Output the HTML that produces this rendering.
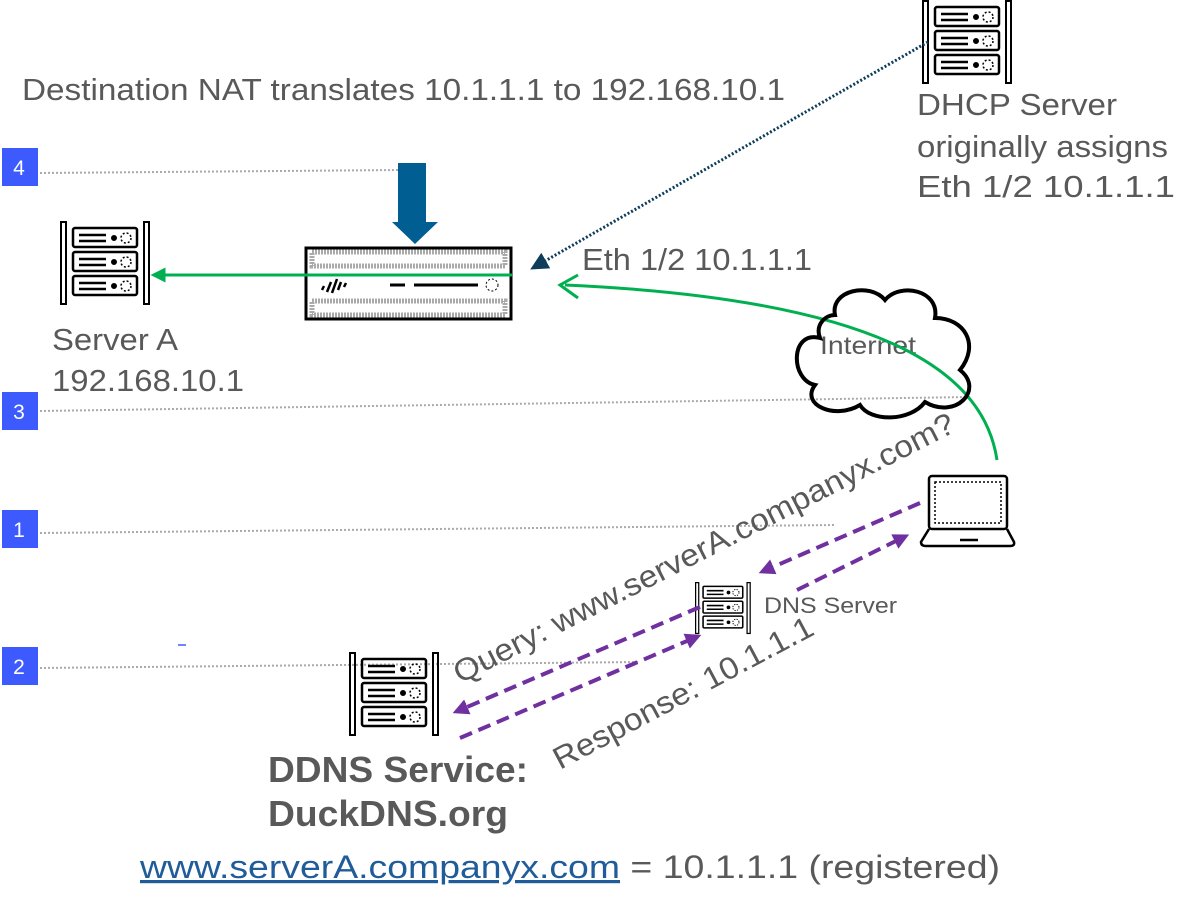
<!DOCTYPE html><html><head><style>body{margin:0;background:#fff}svg{display:block}text{font-family:"Liberation Sans",sans-serif;fill:#595959}</style></head><body>
<svg width="1195" height="911" viewBox="0 0 1195 911">
<defs>
<g id="srv" fill="none" stroke="#000">
<rect x="1" y="1" width="5" height="82" stroke-width="2"/><rect x="84" y="1" width="5" height="82" stroke-width="2"/>
<g id="bx"><rect x="13" y="7" width="64" height="19" rx="2" stroke-width="2.5"/><line x1="19" y1="14" x2="46" y2="14" stroke-width="2.5"/><line x1="19" y1="20" x2="46" y2="20" stroke-width="2.5"/><circle cx="54" cy="17" r="2.5" fill="#000"/><circle cx="66" cy="17" r="5" stroke-width="1.5" stroke-dasharray="2 2"/></g>
<use href="#bx" y="24"/><use href="#bx" y="48"/>
</g>
<marker id="pa" markerWidth="4" markerHeight="4" refX="2" refY="2" orient="auto" markerUnits="strokeWidth"><path d="M0,0L4,2L0,4z" fill="#7030A0"/></marker>
<marker id="ga" markerWidth="5" markerHeight="5" refX="2.5" refY="2.5" orient="auto" markerUnits="strokeWidth"><path d="M0,0L5,2.5L0,5z" fill="#00B050"/></marker>
<marker id="da" markerWidth="6" markerHeight="6" refX="3" refY="3" orient="auto" markerUnits="strokeWidth"><path d="M0,0L6,3L0,6z" fill="#0E3D5A"/></marker>
</defs>
<g stroke="#aaa" stroke-width="2" stroke-dasharray="2 2">
<line x1="40" y1="173" x2="400" y2="170"/><line x1="40" y1="411" x2="970" y2="397"/><line x1="40" y1="533" x2="835" y2="525"/><line x1="40" y1="668" x2="640" y2="662"/>
</g>
<g font-size="21" text-anchor="middle">
<rect x="2" y="148" width="36" height="38" fill="#3D5AFE"/><text x="19" y="175" style="fill:#fff">4</text>
<rect x="2" y="392" width="36" height="38" fill="#3D5AFE"/><text x="19" y="419" style="fill:#fff">3</text>
<rect x="2" y="510" width="36" height="38" fill="#3D5AFE"/><text x="19" y="537" style="fill:#fff">1</text>
<rect x="2" y="647" width="36" height="38" fill="#3D5AFE"/><text x="19" y="674" style="fill:#fff">2</text>
</g>
<line x1="178" y1="645" x2="186" y2="645" stroke="#3D5AFE" stroke-width="1.5"/>
<g lengthAdjust="spacingAndGlyphs">
<text x="22" y="100" font-size="31" textLength="763" lengthAdjust="spacingAndGlyphs">Destination NAT translates 10.1.1.1 to 192.168.10.1</text>
<text x="917" y="115" font-size="31" textLength="200" lengthAdjust="spacingAndGlyphs">DHCP Server</text>
<text x="917" y="157" font-size="31" textLength="251" lengthAdjust="spacingAndGlyphs">originally assigns</text>
<text x="917" y="197" font-size="31" textLength="258" lengthAdjust="spacingAndGlyphs">Eth 1/2 10.1.1.1</text>
<text x="582" y="270" font-size="31" textLength="230" lengthAdjust="spacingAndGlyphs">Eth 1/2 10.1.1.1</text>
<text x="52" y="350" font-size="31" textLength="126" lengthAdjust="spacingAndGlyphs">Server A</text>
<text x="52" y="391" font-size="31" textLength="192" lengthAdjust="spacingAndGlyphs">192.168.10.1</text>
<text x="268" y="782" font-size="36" font-weight="bold" textLength="260" lengthAdjust="spacingAndGlyphs">DDNS Service:</text>
<text x="268" y="826" font-size="36" font-weight="bold" textLength="240" lengthAdjust="spacingAndGlyphs">DuckDNS.org</text>
<text x="140" y="878" font-size="32"><tspan style="fill:#1F5C99" text-decoration="underline" textLength="480" lengthAdjust="spacingAndGlyphs">www.serverA.companyx.com</tspan><tspan textLength="380" lengthAdjust="spacingAndGlyphs"> = 10.1.1.1 (registered)</tspan></text>
<text x="764" y="613" font-size="22" textLength="133" lengthAdjust="spacingAndGlyphs">DNS Server</text>
<text x="820" y="354" font-size="25" textLength="96" lengthAdjust="spacingAndGlyphs">Internet</text>
<text font-size="31" textLength="558" lengthAdjust="spacingAndGlyphs" transform="translate(460,684) rotate(-27)">Query: www.serverA.companyx.com?</text>
<text font-size="31" textLength="290" lengthAdjust="spacingAndGlyphs" transform="translate(560,770) rotate(-28)">Response: 10.1.1.1</text>
</g>
<use href="#srv" x="60" y="221"/>
<use href="#srv" x="922" y="0"/>
<use href="#srv" x="349" y="652"/>
<use href="#srv" transform="translate(695,582) scale(0.62)"/>
<rect x="306" y="248" width="205" height="71" fill="#fff" stroke="#000" stroke-width="3"/>
<rect x="312" y="252" width="193" height="14" fill="none" stroke="#aaa" stroke-width="5" stroke-dasharray="2 1"/>
<rect x="312" y="301" width="193" height="14" fill="none" stroke="#aaa" stroke-width="5" stroke-dasharray="2 1"/>
<line x1="390" y1="285" x2="405" y2="285" stroke="#000" stroke-width="3"/><line x1="414" y1="285" x2="478" y2="285" stroke="#000" stroke-width="3"/>
<circle cx="492" cy="285" r="6" fill="none" stroke="#000" stroke-dasharray="2 2"/>
<path d="M322,290l2,-4M327,292l4,-10M332,293l5,-14M338,290l3,-8M344,287l2,-4" stroke="#000" stroke-width="2.5"/>
<path d="M398,163h28v59h12l-23,22l-23,-22h6z" fill="#005E93"/>
<line x1="512" y1="275" x2="158" y2="275" stroke="#00B050" stroke-width="3" marker-end="url(#ga)"/>
<path d="M997,460 C985,380 900,300 565,285" fill="none" stroke="#00B050" stroke-width="3"/>
<path d="M578,275 L560,285 L578,298" fill="none" stroke="#00B050" stroke-width="3"/>
<line x1="928" y1="42" x2="538" y2="265" stroke="#0E3D5A" stroke-width="3" stroke-dasharray="2 2" marker-end="url(#da)"/>
<path d="M835,315 C830,290 870,282 885,300 C900,282 940,290 935,318 C965,318 980,345 960,370 C985,390 955,420 925,402 C910,422 870,422 860,405 C835,420 800,405 815,385 C790,380 790,330 820,338 C815,325 825,315 835,315z" fill="none" stroke="#000" stroke-width="4"/>
<rect x="929" y="476" width="78" height="53" rx="3" fill="#fff" stroke="#000" stroke-width="2.5"/>
<rect x="935" y="482" width="66" height="41" fill="none" stroke="#000" stroke-width="1.5" stroke-dasharray="2 2"/>
<path d="M929,529 L921,542 Q921,546 926,546 H1010 Q1015,546 1014,542 L1007,529" fill="none" stroke="#000" stroke-width="2.5"/>
<line x1="960" y1="540" x2="978" y2="540" stroke="#000" stroke-width="2.5"/>
<g stroke="#7030A0" stroke-width="4" stroke-dasharray="13 7" fill="none">
<line x1="920" y1="503" x2="766" y2="570" marker-end="url(#pa)"/>
<line x1="797" y1="590" x2="902" y2="538" marker-end="url(#pa)"/>
<line x1="700" y1="607" x2="460" y2="710" marker-end="url(#pa)"/>
<line x1="460" y1="738" x2="694" y2="638" marker-end="url(#pa)"/>
</g>
</svg></body></html>
